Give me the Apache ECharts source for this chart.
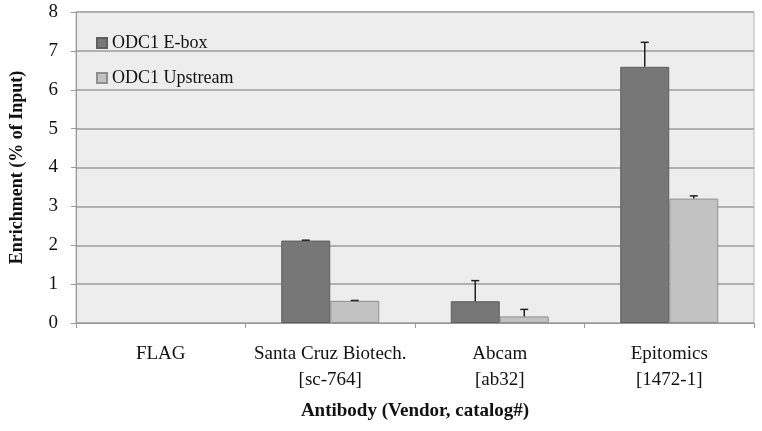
<!DOCTYPE html>
<html>
<head>
<meta charset="utf-8">
<script src="https://cdn.jsdelivr.net/npm/echarts@6/dist/echarts.min.js"></script>
<style>
  html, body { margin: 0; padding: 0; background: #fff; }
  #chart { width: 762px; height: 431px; }
</style>
</head>
<body>
<div id="chart"></div>
<script>
// antibody categories (vendor + catalog#)
var categories = ['FLAG', 'Santa Cruz Biotech.\n[sc-764]', 'Abcam\n[ab32]', 'Epitomics\n[1472-1]'];
var eboxValues = [0, 2.12, 0.56, 6.59];
var eboxErrors = [0, 0.01, 0.53, 0.63];
var upstreamValues = [0, 0.57, 0.17, 3.2];
var upstreamErrors = [0, 0.01, 0.18, 0.07];

var fontFamily = 'Liberation Serif';
var barW = 49;

// zero bars are not drawn in the original
function barData(values) {
  return values.map(function (v) { return v === 0 ? '-' : v; });
}

function errorSeries(values, errors, shift) {
  var data = values.map(function (v, i) { return [i, v, v + errors[i]]; });
  return {
    type: 'custom',
    silent: true,
    z: 5,
    data: data,
    renderItem: function (params, api) {
      if (api.value(1) === 0) return null;
      var lo = api.coord([api.value(0), api.value(1)]);
      var hi = api.coord([api.value(0), api.value(2)]);
      var x = lo[0] + shift;
      var style = { stroke: '#222', lineWidth: 1.5 };
      return {
        type: 'group',
        children: [
          { type: 'line', shape: { x1: x, y1: lo[1], x2: x, y2: hi[1] }, style: style },
          { type: 'line', shape: { x1: x - 4, y1: hi[1], x2: x + 4, y2: hi[1] }, style: style }
        ]
      };
    }
  };
}

var chart = echarts.init(document.getElementById('chart'));
chart.setOption({
  animation: false,
  textStyle: { fontFamily: fontFamily },
  grid: {
    left: 71, right: 8, top: 12, bottom: 108,
    show: true, backgroundColor: '#ededed', borderColor: '#b5b5b5', borderWidth: 1
  },
  legend: {
    orient: 'vertical',
    left: 91, top: 29,
    itemWidth: 10, itemHeight: 10, itemGap: 17,
    icon: 'rect',
    textStyle: { fontFamily: fontFamily, fontSize: 18, color: '#111' },
    data: ['ODC1 E-box', 'ODC1 Upstream']
  },
  xAxis: {
    type: 'category',
    data: categories,
    name: 'Antibody (Vendor, catalog#)',
    nameLocation: 'middle',
    nameGap: 79,
    nameTextStyle: { fontFamily: fontFamily, fontSize: 19, fontWeight: 'bold', color: '#111' },
    axisLine: { lineStyle: { color: '#999', width: 1 } },
    axisTick: { show: true, interval: 0, length: 5, lineStyle: { color: '#999' } },
    axisLabel: { interval: 0, fontFamily: fontFamily, fontSize: 19, color: '#111', margin: 18, lineHeight: 26 }
  },
  yAxis: {
    type: 'value',
    min: 0, max: 8, interval: 1,
    name: 'Enrichment (% of Input)',
    nameLocation: 'middle',
    nameGap: 50,
    nameTextStyle: { fontFamily: fontFamily, fontSize: 18, fontWeight: 'bold', color: '#111' },
    axisLine: { show: true, lineStyle: { color: '#999', width: 1 } },
    axisTick: { show: true, length: 5, lineStyle: { color: '#999' } },
    axisLabel: { fontFamily: fontFamily, fontSize: 19, color: '#111', margin: 18 },
    splitLine: { lineStyle: { color: '#b0b0b0', width: 2 } }
  },
  series: [
    {
      name: 'ODC1 E-box', type: 'bar', data: barData(eboxValues),
      barWidth: barW, barGap: '0%',
      itemStyle: { color: '#777777', borderColor: '#5e5e5e', borderWidth: 1 }
    },
    {
      name: 'ODC1 Upstream', type: 'bar', data: barData(upstreamValues),
      barWidth: barW, barGap: '0%',
      itemStyle: { color: '#c2c2c2', borderColor: '#8f8f8f', borderWidth: 1 }
    },
    errorSeries(eboxValues, eboxErrors, -barW / 2),
    errorSeries(upstreamValues, upstreamErrors, barW / 2)
  ]
});
</script>
</body>
</html>
